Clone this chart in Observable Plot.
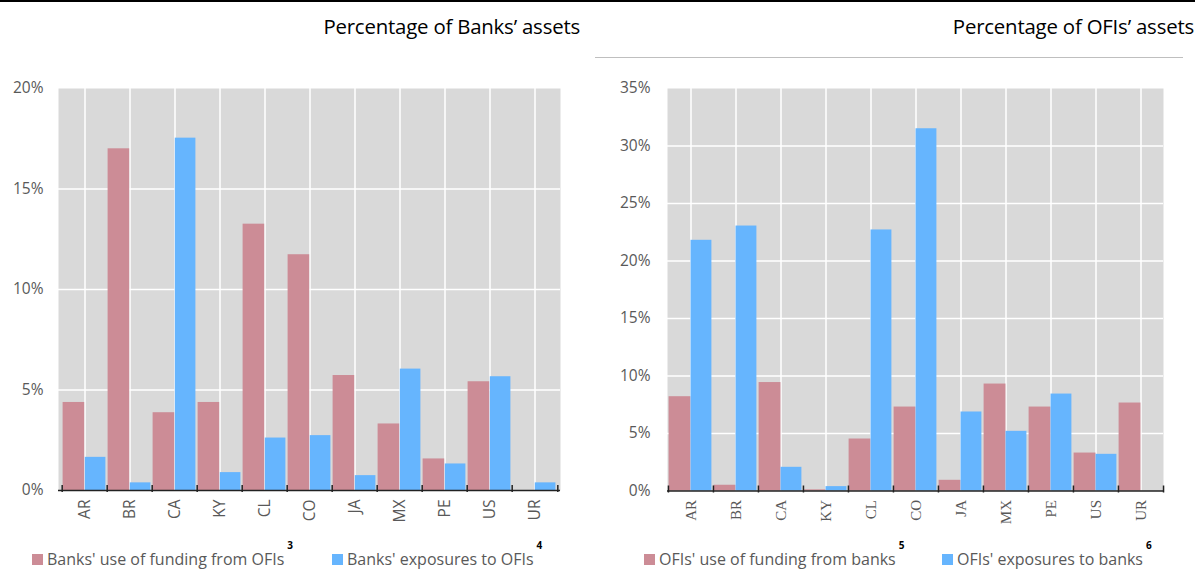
<!DOCTYPE html>
<html>
<head>
<meta charset="utf-8">
<script src="https://cdn.jsdelivr.net/npm/d3@7"></script>
<script src="https://cdn.jsdelivr.net/npm/@observablehq/plot@0.6"></script>
<style>
  html, body { margin: 0; padding: 0; background: #fff; }
  #page { position: relative; width: 1195px; height: 577px; overflow: hidden; font-family: "Open Sans", sans-serif; }
  .abs { position: absolute; }
  .title { font-size: 20.4px; color: #000; white-space: nowrap; letter-spacing: -0.2px; }
  .leg { font-size: 16px; color: #595959; white-space: nowrap; display: flex; align-items: center; }
  .sw { display: inline-block; width: 11px; height: 11px; margin-right: 4px; }
  .sup { font-size: 10px; color: #000; font-weight: bold; }
</style>
</head>
<body>
<div id="page">
  <div class="abs" style="left:0;top:0;width:1195px;height:2px;background:#000"></div>
  <div class="abs" style="left:595px;top:57px;width:588px;height:1px;background:#bfbfbf"></div>
  <div class="abs title" style="right:615px;top:12px">Percentage of Banks’ assets</div>
  <div class="abs title" style="right:1px;top:12px">Percentage of OFIs’ assets</div>
  <div id="left" class="abs" style="left:0;top:70px"></div>
  <div id="right" class="abs" style="left:600px;top:70px"></div>
  <div id="legL" class="abs" style="left:0;top:0"></div>
  <div id="legR" class="abs" style="left:0;top:0"></div>
</div>
<script>
// ---- Data ----
const categories = ["AR","BR","CA","KY","CL","CO","JA","MX","PE","US","UR"];

const banksUseOfFundingFromOFIs = [4.38, 17.0, 3.87, 4.38, 13.25, 11.73, 5.72, 3.31, 1.57, 5.41, 0];
const banksExposuresToOFIs      = [1.65, 0.38, 17.53, 0.89, 2.61, 2.73, 0.74, 6.04, 1.32, 5.66, 0.38];

const ofisUseOfFundingFromBanks = [8.2, 0.5, 9.43, 0.1, 4.52, 7.3, 0.93, 9.3, 7.3, 3.3, 7.65];
const ofisExposuresToBanks      = [21.8, 23.04, 2.06, 0.38, 22.7, 31.5, 6.87, 5.19, 8.43, 3.19, 0];

const leftTicks = [0, 5, 10, 15, 20];
const rightTicks = [0, 5, 10, 15, 20, 25, 30, 35];

const seriesLeft = ["Banks' use of funding from OFIs", "Banks' exposures to OFIs"];
const seriesRight = ["OFIs' use of funding from banks", "OFIs' exposures to banks"];
const footnotesLeft = ["3", "4"];
const footnotesRight = ["5", "6"];

const PINK = "#cc8c96";
const BLUE = "#66b5fe";

function makeChart(opts) {
  const {width, height, mL, mR, mT, mB, yMax, ticks, a, b, tickPad, labelFont, labelSize} = opts;
  const bw = (width - mL - mR) / categories.length;
  const rowsA = categories.map((c, i) => ({c, v: a[i]}));
  const rowsB = categories.map((c, i) => ({c, v: b[i]}));
  const tickStyle = {y1: 0, y2: 0, insetTop: -5, insetBottom: -2, stroke: "#222", strokeWidth: 1.5};
  return Plot.plot({
    width, height,
    marginLeft: mL, marginRight: mR, marginTop: mT, marginBottom: mB,
    style: {fontFamily: "Open Sans, sans-serif", background: "transparent", overflow: "visible"},
    x: {domain: categories, padding: 0, axis: null, label: null},
    y: {domain: [0, yMax], axis: null, label: null},
    marks: [
      Plot.frame({fill: "#d9d9d9", stroke: null}),
      Plot.gridX(categories, {stroke: "#fff", strokeOpacity: 1, strokeWidth: 1.5}),
      Plot.gridY(ticks.filter(t => t > 0 && t < yMax), {stroke: "#fff", strokeOpacity: 1, strokeWidth: 1.5}),
      Plot.barY(rowsA, {x: "c", y: "v", fill: PINK, insetLeft: 0.6, insetRight: bw / 2}),
      Plot.barY(rowsB, {x: "c", y: "v", fill: BLUE, insetLeft: bw / 2, insetRight: 1.6}),
      Plot.ruleY([0], {stroke: "#222", strokeWidth: 1.5}),
      Plot.ruleX(categories, {x: d => d, dx: -bw / 2, ...tickStyle}),
      Plot.ruleX(categories.slice(-1), {x: d => d, dx: bw / 2, ...tickStyle}),
      Plot.axisY(ticks, {tickSize: 0, tickPadding: tickPad, tickFormat: d => d + "%", fontSize: 15.5, fill: "#595959", anchor: "left", label: null}),
      Plot.axisX(categories, {tickSize: 0, tickPadding: 9, tickRotate: -90, fontSize: labelSize, fill: "#595959", fontFamily: labelFont, anchor: "bottom", label: null})
    ]
  });
}

document.getElementById("left").appendChild(makeChart({
  width: 580, height: 460, mL: 58, mR: 20, mT: 18, mB: 40, yMax: 20, ticks: leftTicks,
  a: banksUseOfFundingFromOFIs, b: banksExposuresToOFIs, tickPad: 15,
  labelFont: "Open Sans, sans-serif", labelSize: 15.5
}));
document.getElementById("right").appendChild(makeChart({
  width: 595, height: 460, mL: 67, mR: 32, mT: 18, mB: 39.5, yMax: 35, ticks: rightTicks,
  a: ofisUseOfFundingFromBanks, b: ofisExposuresToBanks, tickPad: 17,
  labelFont: "Liberation Serif, DejaVu Serif, serif", labelSize: 15
}));

function legend(el, names, notes, positions) {
  const cols = [PINK, BLUE];
  names.forEach((n, i) => {
    const item = document.createElement("div");
    item.className = "abs leg";
    item.style.left = positions[i] + "px";
    item.style.top = "548px";
    item.innerHTML = `<span class="sw" style="background:${cols[i]}"></span><span>${n}</span><span class="sup" style="position:relative;top:-14px;margin-left:3px">${notes[i]}</span>`;
    el.appendChild(item);
  });
}
legend(document.getElementById("legL"), seriesLeft, footnotesLeft, [32, 332]);
legend(document.getElementById("legR"), seriesRight, footnotesRight, [644, 942]);
</script>
</body>
</html>
